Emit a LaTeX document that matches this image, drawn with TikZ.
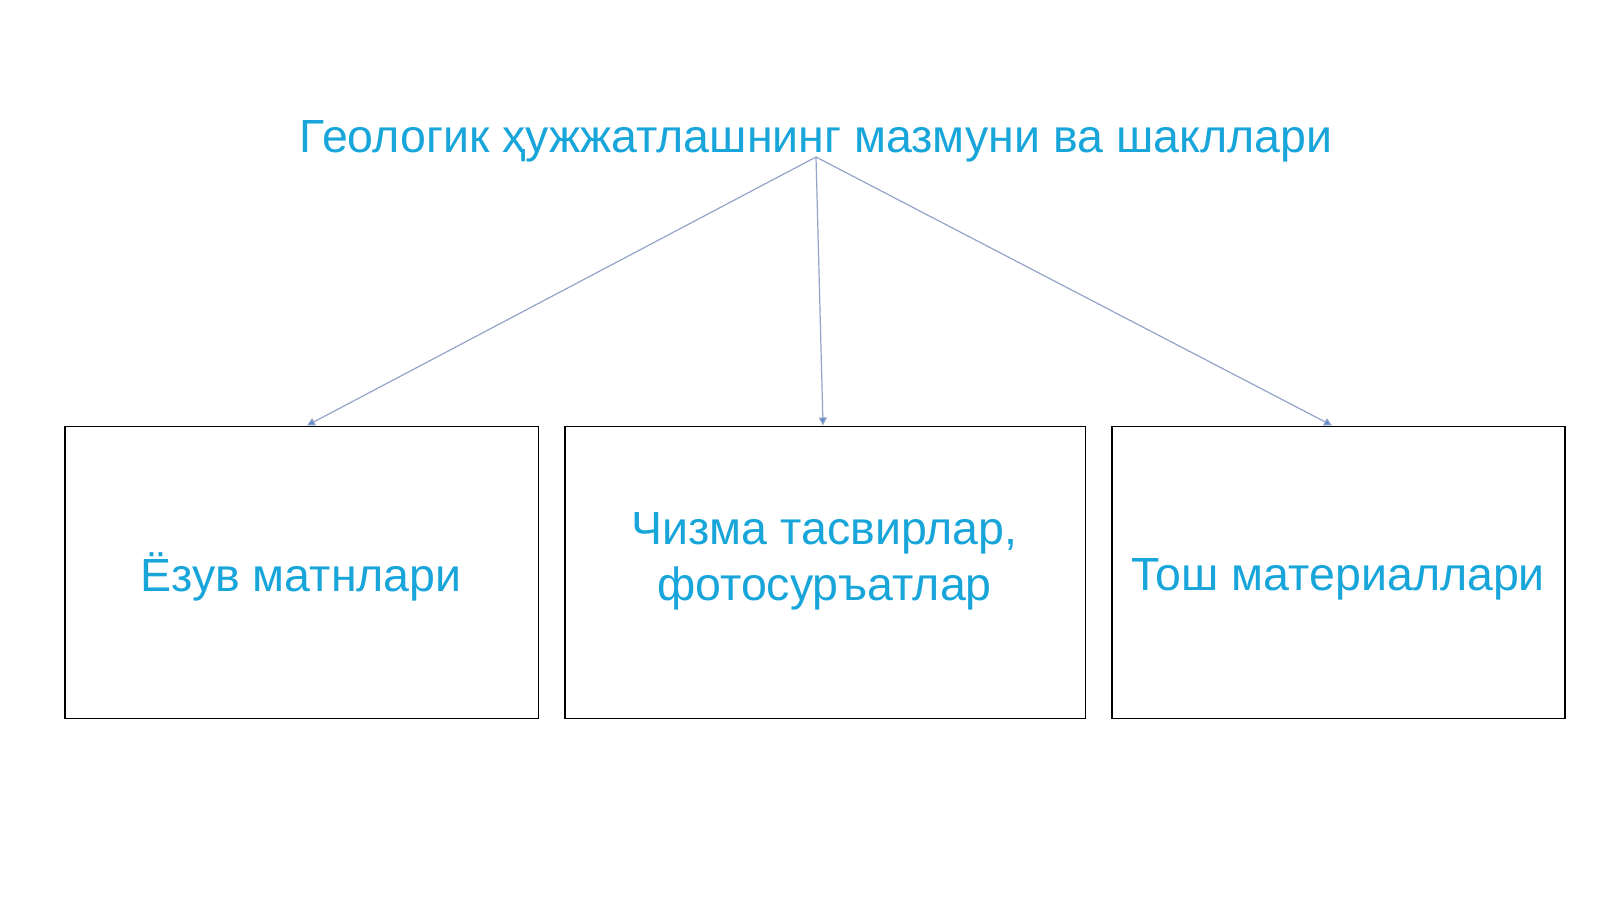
\documentclass[tikz,border=0pt]{standalone}
\usepackage{fontspec}
\setmainfont{Liberation Sans}
\usetikzlibrary{arrows.meta}
\definecolor{titleblue}{HTML}{17A5DA}
\definecolor{linkblue}{HTML}{94A3C8}
\definecolor{tipblue}{HTML}{5B8BD0}
\tikzset{
  box/.style={draw=black, line width=1.6pt, fill=white, inner sep=0pt, anchor=north west},
  btext/.style={text=titleblue, font=\fontsize{46.5}{56}\selectfont, align=center},
  link/.style={draw=linkblue, line width=1.2pt, -{Triangle[width=8pt,length=8pt,fill=tipblue]}}
}
\begin{document}
\begin{tikzpicture}[x=1pt,y=-1pt]
\useasboundingbox (0,0) rectangle (1600,899);
\node[text=titleblue, font=\fontsize{46.5}{52}\selectfont, inner sep=0pt] (title) at (816,141) {Геологик ҳужжатлашнинг мазмуни ва шакллари};
\coordinate (apex) at (816,157);
\node[box, minimum width=473.5pt, minimum height=292pt] (b1) at (64.3,425.5) {};
\node[box, minimum width=520.4pt, minimum height=292pt] (b2) at (564.3,425.5) {};
\node[box, minimum width=453pt, minimum height=292pt] (b3) at (1111.3,425.5) {};
\node[btext] (t1) at (301,577) {Ёзув матнлари};
\node[btext] (t2) at (824.5,561) {Чизма тасвирлар,\\фотосуръатлар};
\node[btext] (t3) at (1338,579) {Тош материаллари};
\draw[link] (apex) -- (b1.north west -| 307,0);
\draw[link] (apex) -- (b2.north west -| 823,0);
\draw[link] (apex) -- (b3.north west -| 1332,0);
\end{tikzpicture}
\end{document}
